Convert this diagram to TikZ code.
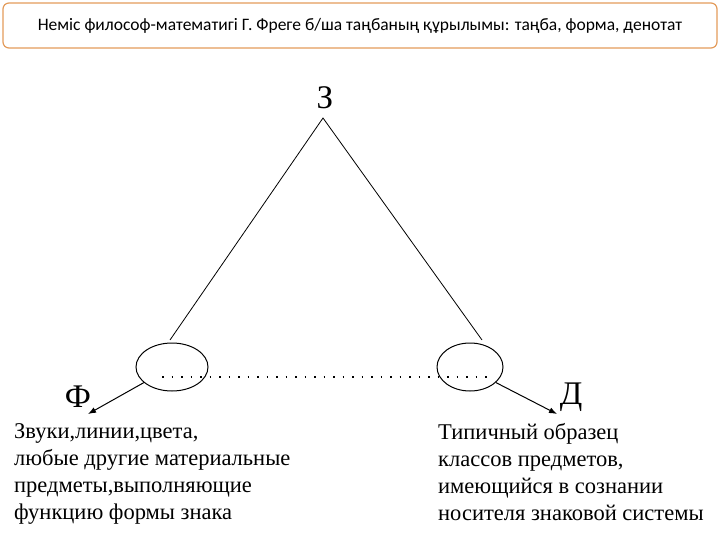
\documentclass[tikz,border=0pt]{standalone}
\usepackage{fontspec}
\setmainfont{Liberation Serif}
\newfontfamily\titlefont{Carlito}
\usetikzlibrary{arrows.meta,shapes.geometric}
\definecolor{frame}{HTML}{E39B5A}
\tikzset{ln/.style={line width=0.8pt,black},
  body/.style={anchor=north west,align=left,font=\fontsize{22.5}{27}\selectfont,inner sep=0pt},
  ell/.style={draw,line width=1pt,ellipse},
  arr/.style={line width=1pt,-{Latex[length=8pt,width=6pt]}}}
\begin{document}
\begin{tikzpicture}[x=1pt,y=-1pt]
\useasboundingbox (0,0) rectangle (720,540);
\node[draw=frame,line width=1.2pt,rounded corners=6pt,minimum width=714pt,minimum height=45pt,font=\titlefont\fontsize{17.5}{19}\selectfont] (title) at (360,25.5) {Неміс философ-математигі Г. Фреге б/ша таңбаның құрылымы: таңба, форма, денотат};
\node[font=\fontsize{33}{33}\selectfont] (z) at (325,98) {З};
\coordinate (apex) at (323,118);
\node[ell,minimum width=72pt,minimum height=48pt] (l) at (172,367) {};
\node[ell,minimum width=66pt,minimum height=48pt] (r) at (470,367) {};
\coordinate (lt) at (170,340);
\coordinate (rt) at (482,340);
\draw[ln] (lt) -- (apex) -- (rt);
\coordinate (d1) at (162,377); \coordinate (d2) at (492,377);
\draw[ln,line width=1.2pt,dash pattern=on 1.5pt off 8pt] (d1) -- (d2);
\coordinate (fa) at (88,414); \coordinate (da) at (557,414);
\draw[arr] (l.209) -- (fa);
\draw[arr] (r.-31) -- (da);
\node[font=\fontsize{33}{33}\selectfont] (f) at (78,397) {Ф};
\node[font=\fontsize{33}{33}\selectfont] (d) at (571,397) {Д};
\node[body] (lt1) at (14,423) {Звуки,линии,цвета,\\любые другие материальные\\предметы,выполняющие\\функцию формы знака};
\node[body] (rt1) at (438,423) {Типичный образец\\классов предметов,\\имеющийся в сознании\\носителя знаковой системы};
\end{tikzpicture}
\end{document}
